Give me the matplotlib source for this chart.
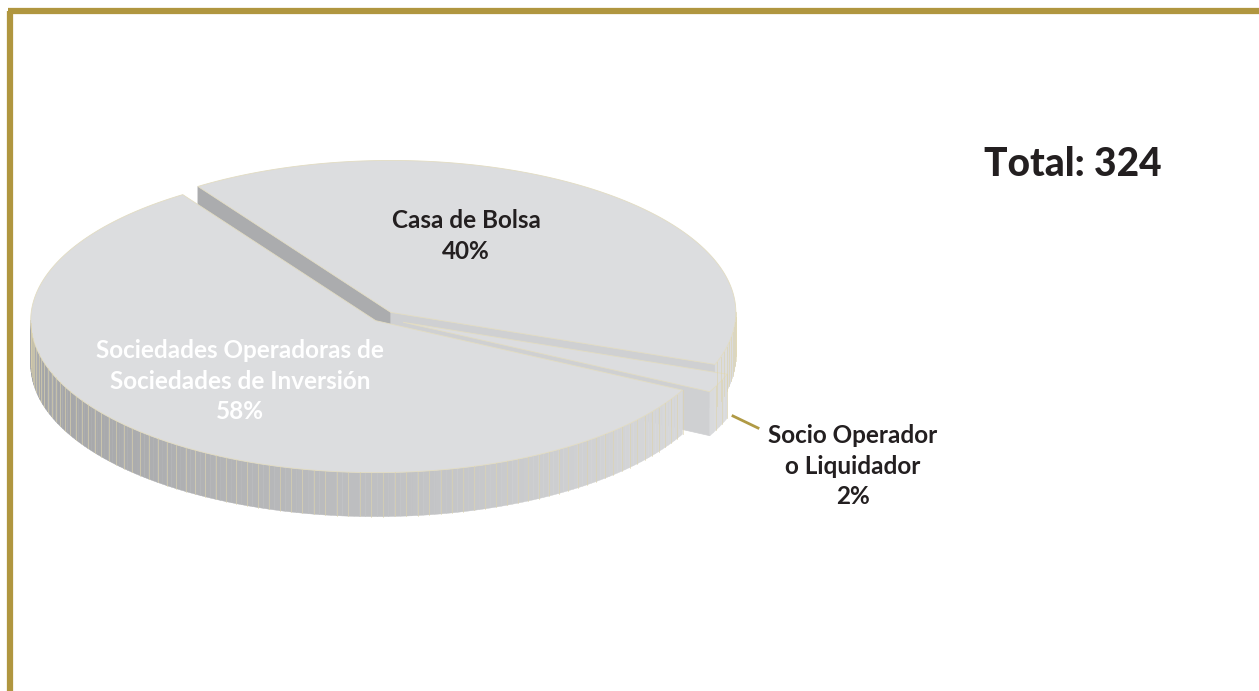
import numpy as np
import matplotlib.pyplot as plt
from matplotlib.patches import Polygon

categorias = ['Casa de Bolsa', 'Socio Operador\no Liquidador',
              'Sociedades Operadoras de\nSociedades de Inversión']
porcentajes = [40, 2, 58]
total = 324

fig = plt.figure(figsize=(12.59, 6.91), dpi=100)
ax = fig.add_axes([0, 0, 1, 1])
ax.set_xlim(0, 1259)
ax.set_ylim(691, 0)
ax.axis('off')

# geometria del pastel "3d"
cx, cy = 381, 318
a, b, h = 345, 152, 44
inicio = 124
separar = [16, 24, 8]
top_color = '#dcdddf'
raya = '#ddd3ac'

c0 = np.array([0xa4, 0xa5, 0xa7]) / 255
c1 = np.array([0xda, 0xdb, 0xdd]) / 255


def color_pared(x):
    f = np.clip((x - 40) / 680, 0, 1)
    return c0 + (c1 - c0) * f


cum = np.cumsum([0] + porcentajes)
for i, p in enumerate(porcentajes):
    t1 = np.deg2rad(inicio - cum[i] * 3.6)
    t2 = np.deg2rad(inicio - cum[i + 1] * 3.6)
    mid = (t1 + t2) / 2
    ox = cx + separar[i] * np.cos(mid)
    oy = cy - separar[i] * np.sin(mid) * b / a

    # caras radiales visibles
    for t, n in [(t1, t1 + np.pi / 2), (t2, t2 - np.pi / 2)]:
        if np.sin(n) < 0:
            px, py = ox + a * np.cos(t), oy - b * np.sin(t)
            fc = '#abacae' if np.cos(n) < -0.6 else '#cfd0d2'
            ax.add_patch(Polygon([(ox, oy), (px, py), (px, py + h), (ox, oy + h)],
                                 closed=True, fc=fc, ec=fc, lw=0.5))

    # pared exterior (solo la parte frontal)
    ts = np.linspace(t1, t2, max(int(abs(t1 - t2) * 60), 4))
    ts = ts[np.sin(ts) <= 0.02]
    for k in range(len(ts) - 1):
        xa, ya = ox + a * np.cos(ts[k]), oy - b * np.sin(ts[k])
        xb, yb = ox + a * np.cos(ts[k + 1]), oy - b * np.sin(ts[k + 1])
        col = color_pared((xa + xb) / 2)
        ax.add_patch(Polygon([(xa, ya), (xb, yb), (xb, yb + h), (xa, ya + h)],
                             closed=True, fc=col, ec=col, lw=0.3))
        if k % 2 == 0:
            ax.plot([xa, xa], [ya, ya + h], color=raya, lw=0.6, alpha=0.7)

    # cara superior
    ts = np.linspace(t1, t2, 200)
    pts = [(ox, oy)] + [(ox + a * np.cos(t), oy - b * np.sin(t)) for t in ts]
    ax.add_patch(Polygon(pts, closed=True, fc=top_color, ec='#e2dcc2', lw=0.6))

fuente = ['Lato', 'DejaVu Sans']
ax.text(466, 236, f'{categorias[0]}\n{porcentajes[0]}%', ha='center', va='center',
        fontsize=17.5, fontweight='bold', color='#231f20', family=fuente, linespacing=1.45)
ax.text(240, 381, f'{categorias[2]}\n{porcentajes[2]}%', ha='center', va='center',
        fontsize=17.5, fontweight='bold', color='white', family=fuente, linespacing=1.42)
ax.text(853, 466, f'{categorias[1]}\n{porcentajes[1]}%', ha='center', va='center',
        fontsize=17.5, fontweight='bold', color='#231f20', family=fuente, linespacing=1.42)
ax.plot([733, 758], [416, 428], color='#b09a45', lw=2)

ax.text(1073, 164, f'Total: {total}', ha='center', va='center', fontsize=28,
        fontweight='black', color='#231f20', family=fuente)

# marco dorado
ax.plot([10.5, 10.5], [691, 11], color='#b0963f', lw=4.5, solid_capstyle='butt')
ax.plot([8, 1259], [11, 11], color='#b0963f', lw=4.5, solid_capstyle='butt')

fig.savefig('out.png', dpi=100, facecolor='white')
